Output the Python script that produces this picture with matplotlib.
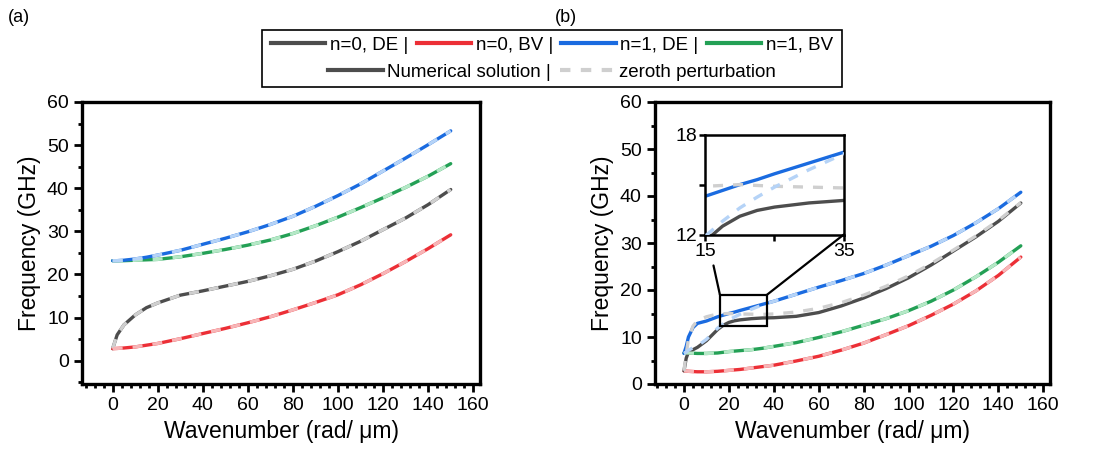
import numpy as np
import matplotlib
matplotlib.use("Agg")
import matplotlib.pyplot as plt
from matplotlib.patches import Rectangle, ConnectionPatch
from matplotlib.lines import Line2D
from matplotlib.ticker import MultipleLocator

plt.rcParams['font.family'] = ['Liberation Sans', 'DejaVu Sans']

# ---- panel (a) data ----
k_a = [0, 2, 5, 10, 15, 20, 30, 40, 50, 60, 70, 80, 90, 100, 110, 120, 130, 140, 150]
a_n0_de = [2.8, 6.0, 8.3, 10.6, 12.3, 13.4, 15.2, 16.2, 17.3, 18.4, 19.7, 21.2, 23.1, 25.3, 27.7, 30.4, 33.1, 36.2, 39.7]
a_n0_bv = [2.8, 2.85, 2.95, 3.2, 3.6, 4.0, 5.1, 6.3, 7.5, 8.8, 10.2, 11.8, 13.5, 15.3, 17.6, 20.2, 23.0, 26.0, 29.2]
a_n1_de = [23.2, 23.2, 23.3, 23.6, 24.0, 24.5, 25.6, 27.0, 28.4, 29.9, 31.6, 33.5, 35.8, 38.3, 41.0, 44.0, 47.0, 50.1, 53.3]
a_n1_bv = [23.2, 23.2, 23.2, 23.3, 23.4, 23.5, 24.1, 24.9, 25.8, 26.8, 28.0, 29.5, 31.3, 33.3, 35.5, 37.8, 40.2, 42.8, 45.7]

# ---- panel (b) data ----
k_b = [0, 1, 2, 4, 6, 10, 15, 17.5, 20, 22.5, 25, 30, 35, 40, 50, 60, 70, 80, 90, 100, 110, 120, 130, 140, 150]
b_n0_de = [2.8, 5.5, 6.8, 7.3, 7.8, 9.2, 11.6, 12.5, 13.1, 13.45, 13.65, 13.9, 14.05, 14.1, 14.4, 15.2, 16.6, 18.3, 20.3, 22.6, 25.3, 28.3, 31.3, 34.6, 38.5]
b_n0_de_zero = [2.8, 6.5, 9.5, 12.3, 13.5, 14.3, 14.9, 14.95, 15.0, 14.95, 14.9, 14.85, 14.8, 14.9, 15.3, 16.1, 17.3, 18.9, 20.8, 23.0, 25.6, 28.5, 31.5, 34.8, 38.6]
b_n1_de = [6.5, 8.0, 10.0, 12.0, 12.9, 13.4, 14.3, 14.65, 15.0, 15.3, 15.65, 16.3, 16.95, 17.6, 19.1, 20.6, 22.0, 23.5, 25.3, 27.3, 29.3, 31.6, 34.3, 37.3, 40.8]
b_n1_de_zero = [6.5, 6.8, 7.2, 7.7, 8.1, 9.5, 11.9, 12.8, 13.6, 14.25, 14.85, 15.9, 16.85, 17.6, 19.1, 20.6, 22.0, 23.5, 25.3, 27.3, 29.3, 31.6, 34.3, 37.3, 40.8]
b_n0_bv = [2.8, 2.75, 2.7, 2.65, 2.6, 2.6, 2.7, 2.8, 2.9, 3.0, 3.1, 3.4, 3.7, 4.0, 4.9, 5.9, 7.2, 8.7, 10.5, 12.4, 14.6, 17.0, 19.8, 23.1, 27.0]
b_n1_bv = [6.6, 6.6, 6.6, 6.55, 6.5, 6.5, 6.6, 6.75, 6.9, 7.0, 7.1, 7.3, 7.6, 8.0, 8.8, 9.9, 11.1, 12.5, 13.9, 15.6, 17.6, 20.0, 22.8, 25.9, 29.4]

dark = {'n0de': '#4d4d4d', 'n0bv': '#ec2f36', 'n1de': '#1a6be0', 'n1bv': '#23a055'}
light = {'n0de': '#cfcfcf', 'n0bv': '#f7b5b7', 'n1de': '#b5d3f7', 'n1bv': '#b4e8c6'}

LW = 2.4


def draw_pair(ax, k, num, zero, key):
    ax.plot(k, num, color=dark[key], lw=LW, solid_capstyle='round', zorder=2)
    ax.plot(k, zero, color=light[key], lw=LW, dashes=(3, 3), zorder=3)


def style_axes(ax, xlim, ylim):
    ax.set_xlim(*xlim)
    ax.set_ylim(*ylim)
    for s in ax.spines.values():
        s.set_linewidth(2.4)
    ax.xaxis.set_major_locator(MultipleLocator(20))
    ax.xaxis.set_minor_locator(MultipleLocator(4))
    ax.yaxis.set_major_locator(MultipleLocator(10))
    ax.yaxis.set_minor_locator(MultipleLocator(5))
    ax.tick_params(which='major', direction='out', length=6, width=2, labelsize=14,
                   top=False, right=False)
    ax.tick_params(which='minor', direction='out', length=3, width=2, top=False, right=False)
    ax.set_xticks(range(0, 161, 20))
    ax.set_xlabel('Wavenumber (rad/ \u03bcm)', fontsize=16.5, labelpad=4)
    ax.set_ylabel('Frequency (GHz)', fontsize=16.5, labelpad=4)


fig = plt.figure(figsize=(11, 4.57), dpi=100)
ax1 = fig.add_axes([82 / 1100, 1 - 384 / 457, 398 / 1100, 282 / 457])
ax2 = fig.add_axes([655 / 1100, 1 - 384 / 457, 395 / 1100, 282 / 457])

draw_pair(ax1, k_a, a_n0_de, a_n0_de, 'n0de')
draw_pair(ax1, k_a, a_n0_bv, a_n0_bv, 'n0bv')
draw_pair(ax1, k_a, a_n1_bv, a_n1_bv, 'n1bv')
draw_pair(ax1, k_a, a_n1_de, a_n1_de, 'n1de')
style_axes(ax1, (-13.6, 163), (-5.4, 60))

draw_pair(ax2, k_b, b_n0_bv, b_n0_bv, 'n0bv')
draw_pair(ax2, k_b, b_n1_bv, b_n1_bv, 'n1bv')
draw_pair(ax2, k_b, b_n0_de, b_n0_de_zero, 'n0de')
draw_pair(ax2, k_b, b_n1_de, b_n1_de_zero, 'n1de')
style_axes(ax2, (-12.9, 163), (0, 60))

# zoom box and inset
ax2.add_patch(Rectangle((16, 12.3), 21, 6.7, fill=False, lw=1.6, ec='black', zorder=5))
ins = ax2.inset_axes([0.127, 0.53, 0.351, 0.354])
draw_pair(ins, k_b, b_n0_de, b_n0_de_zero, 'n0de')
draw_pair(ins, k_b, b_n1_de, b_n1_de_zero, 'n1de')
ins.set_xlim(15, 35)
ins.set_ylim(12, 18)
ins.set_xticks([15, 25, 35])
ins.set_xticklabels(['15', '', '35'])
ins.set_yticks([12, 15, 18])
ins.set_yticklabels(['12', '', '18'])
ins.tick_params(direction='out', length=4, width=1.8, labelsize=14, pad=2)
for s in ins.spines.values():
    s.set_linewidth(1.8)
ins.set_facecolor('white')

for xy_a, xy_b in [((16, 19), (0.06, -0.31)), ((37, 19), (1.0, 0.0))]:
    con = ConnectionPatch(xyA=xy_a, coordsA=ax2.transData, xyB=xy_b, coordsB=ins.transAxes,
                          color='black', lw=1.6)
    fig.add_artist(con)

# legend
row1 = [Line2D([], [], color=dark['n0de'], lw=3),
        Line2D([], [], color=dark['n0bv'], lw=3),
        Line2D([], [], color=dark['n1de'], lw=3),
        Line2D([], [], color=dark['n1bv'], lw=3)]
lab1 = ['n=0, DE |', 'n=0, BV |', 'n=1, DE |', 'n=1, BV']
row2 = [Line2D([], [], color=dark['n0de'], lw=3),
        Line2D([], [], color=light['n0de'], lw=3, dashes=(2.5, 2.5))]
lab2 = ['Numerical solution |', 'zeroth perturbation']
leg_kw = dict(loc='center', frameon=False, fontsize=13.5, handlelength=2.9,
              handletextpad=0.25, columnspacing=0.45, borderpad=0, borderaxespad=0)
fig.legend(row1, lab1, ncol=4, bbox_to_anchor=(552 / 1100, 1 - 45 / 457), **leg_kw)
fig.legend(row2, lab2, ncol=2, bbox_to_anchor=(552 / 1100, 1 - 72 / 457), **leg_kw)
fig.add_artist(Rectangle((262 / 1100, 1 - 87 / 457), 580 / 1100, 57 / 457,
                         transform=fig.transFigure, fill=False, lw=1.2, ec='black'))

fig.text(8 / 1100, 1 - 17 / 457, '(a)', fontsize=13, va='center', ha='left')
fig.text(555 / 1100, 1 - 17 / 457, '(b)', fontsize=13, va='center', ha='left')

plt.savefig('out.png', dpi=100)
